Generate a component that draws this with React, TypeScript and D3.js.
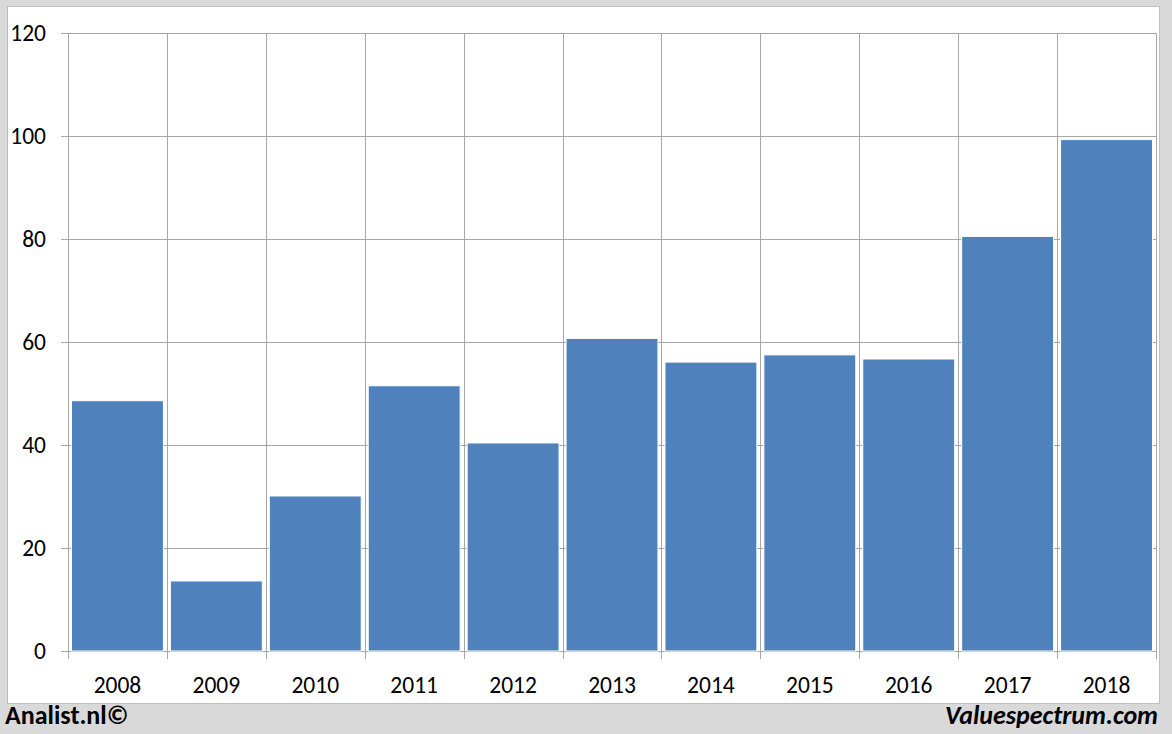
import React from "react";
import * as d3 from "d3";

const years = ["2008","2009","2010","2011","2012","2013","2014","2015","2016","2017","2018"];
const values = [48.6, 13.6, 30.1, 51.5, 40.4, 60.7, 56.1, 57.5, 56.7, 80.5, 99.3];
const yTicks = [0, 20, 40, 60, 80, 100, 120];

const W = 1172, H = 734;
const plot = { left: 68, right: 1156, top: 33, bottom: 651 };

export default function App() {
  const x = d3.scaleBand<string>().domain(years).range([plot.left, plot.right]).paddingInner(0).paddingOuter(0);
  const y = d3.scaleLinear().domain([0, 120]).range([plot.bottom, plot.top]);
  const bw = x.bandwidth();
  const gap = 3.5;
  const font = "Calibri, Carlito, Lato, 'Open Sans', sans-serif";
  const grid = "#a6a6a6";
  return (
    <svg width={W} height={H} style={{ position: "absolute", left: 0, top: 0, display: "block" }}>
      <rect x={0} y={0} width={W} height={H} fill="#d9d9d9" />
      <rect x={7.5} y={6.5} width={1152} height={697} fill="#ffffff" stroke="#bfbfbf" strokeWidth={1} />
      {yTicks.map(t => (
        <g key={t}>
          <line x1={plot.left - 7} x2={plot.right} y1={Math.round(y(t)) + 0.5} y2={Math.round(y(t)) + 0.5} stroke={grid} strokeWidth={1} />
          <text x={46} y={y(t)} textAnchor="end" dominantBaseline="central" fontFamily={font} fontSize={23.5} fill="#000">{t}</text>
        </g>
      ))}
      {years.map((yr, i) => (
        <line key={"v" + yr} x1={Math.round(x(yr)!) + 0.5} x2={Math.round(x(yr)!) + 0.5} y1={plot.top} y2={plot.bottom + 8} stroke={grid} strokeWidth={1} />
      ))}
      <line x1={plot.right + 0.5} x2={plot.right + 0.5} y1={plot.top} y2={plot.bottom + 8} stroke={grid} strokeWidth={1} />
      {years.map((yr, i) => (
        <rect key={"b" + yr} x={x(yr)! + gap} y={y(values[i])} width={bw - 2 * gap} height={y(0) - y(values[i])} fill="#4f81bd" stroke="#ffffff" strokeWidth={1} />
      ))}
      {years.map(yr => (
        <text key={"t" + yr} x={x(yr)! + bw / 2} y={685} textAnchor="middle" dominantBaseline="central" fontFamily={font} fontSize={23.5} fill="#000">{yr}</text>
      ))}
      <text x={5} y={724} fontFamily={font} fontSize={26} fontWeight="bold" fill="#000">Analist.nl©</text>
      <text x={1158} y={724} textAnchor="end" fontFamily={font} fontSize={26} fontWeight="bold" fontStyle="italic" fill="#000">Valuespectrum.com</text>
    </svg>
  );
}
